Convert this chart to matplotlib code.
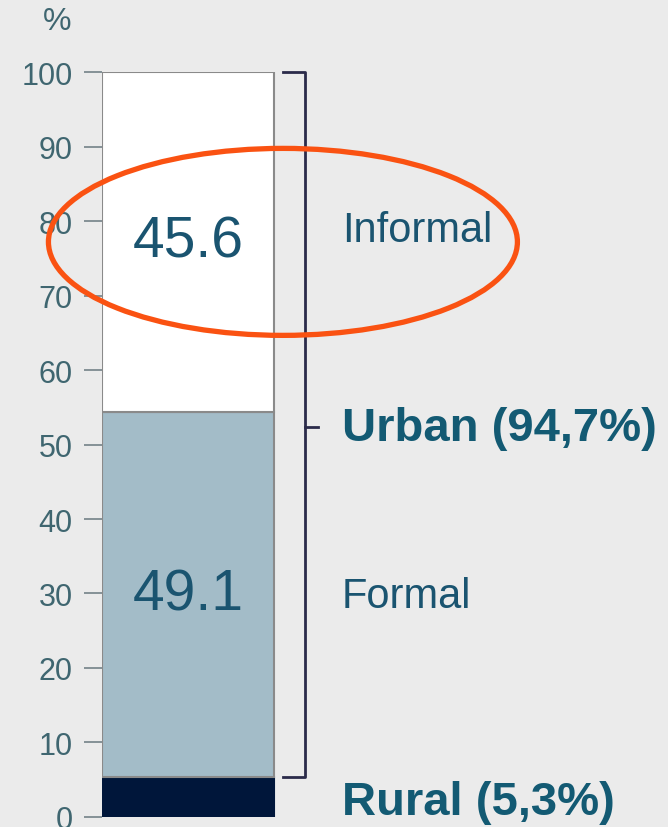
import matplotlib.pyplot as plt
from matplotlib.patches import Ellipse

# Employment shares, stacked bottom -> top
segments = ["Rural", "Formal", "Informal"]
shares = [5.3, 49.1, 45.6]
colors = ["#00163a", "#a3bcc8", "#ffffff"]
yticks = [0, 10, 20, 30, 40, 50, 60, 70, 80, 90, 100]

urban = shares[1] + shares[2]

plt.rcParams["font.family"] = ["Liberation Sans", "DejaVu Sans"]
bg = "#ebebeb"
tick_col = "#3f6670"
txt_col = "#1a5470"
bold_col = "#135a73"

fig = plt.figure(figsize=(6.68, 8.28), dpi=100, facecolor=bg)
ax = fig.add_axes([0.1527, 0.0121, 0.847, 0.8997])
ax.set_facecolor(bg)

bottom = 0
for name, val, c in zip(segments, shares, colors):
    ec = c if name == "Rural" else "#8a8a8a"
    ax.bar(0, val, width=1.0, bottom=bottom, color=c, edgecolor=ec, linewidth=1.5, zorder=2)
    if name != "Rural":
        ax.text(0, bottom + val / 2, f"{val:.1f}", ha="center", va="center",
                fontsize=41, color=txt_col, zorder=3)
    bottom += val

# bracket grouping the urban segments
bx = 0.68
ax.plot([0.552, bx, bx, 0.552], [100, 100, shares[0], shares[0]],
        color="#2b2b4a", linewidth=2, clip_on=False, zorder=3)
ax.plot([bx, 0.756], [52.4, 52.4], color="#2b2b4a", linewidth=2, clip_on=False)

ax.text(0.895, 52.2, f"Urban ({urban:.1f}%)".replace(".", ","), fontsize=34,
        fontweight="bold", color=bold_col, va="center", ha="left")
ax.text(0.895, 2.0, f"Rural ({shares[0]:.1f}%)".replace(".", ","), fontsize=34,
        fontweight="bold", color=bold_col, va="center", ha="left")
ax.text(0.895, 78.8, segments[2], fontsize=30, color=txt_col, va="center", ha="left")
ax.text(0.895, 29.7, segments[1], fontsize=30, color=txt_col, va="center", ha="left")

# highlight ring round the informal share
ax.add_patch(Ellipse((0.552, 77.2), 2.727, 25.1, fill=False, edgecolor="#fa5212",
                     linewidth=3.8, clip_on=False, zorder=5))

ax.set_xlim(-0.5, 2.79)
ax.set_ylim(0, 100)
ax.set_yticks(yticks)
ax.set_xticks([])
for s in ax.spines.values():
    s.set_visible(False)
ax.tick_params(axis="y", length=13, width=1.3, color="#7d8a90", pad=8,
               labelsize=22, labelcolor=tick_col)
fig.text(0.086, 0.973, "%", fontsize=23, color=tick_col, ha="center", va="center")

fig.savefig("out.png", dpi=100, facecolor=bg)
